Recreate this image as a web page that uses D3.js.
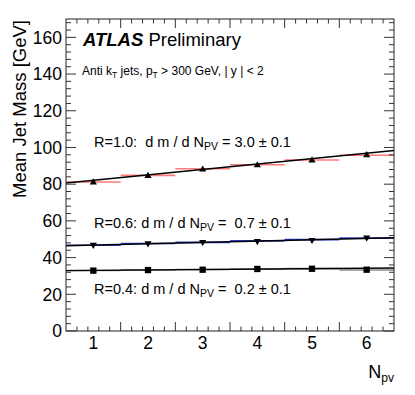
<!DOCTYPE html>
<html>
<head>
<meta charset="utf-8">
<script src="https://cdn.jsdelivr.net/npm/d3@7"></script>
<style>
  body { margin: 0; background: #fff; }
  text { font-family: "Liberation Sans", Arial, sans-serif; white-space: pre; }
</style>
</head>
<body>
<div id="chart"></div>
<script>
// data
var npv = [1, 2, 3, 4, 5, 6];
var massR10 = [81.0, 84.5, 88.0, 90.3, 93.0, 95.8];
var massR06 = [46.9, 47.8, 48.5, 49.0, 49.6, 50.9];
var massR04 = [32.9, 33.2, 33.4, 33.8, 33.9, 33.4];
var histR10 = [81.2, 84.8, 88.4, 90.6, 93.2, 95.8];
var histR06 = [46.7, 47.7, 48.3, 49.1, 49.8, 50.6];
var histR04 = [33.0, 33.3, 33.5, 33.7, 34.0, 33.2];
var fitR10 = [79.2, 2.95];  // intercept, slope
var fitR06 = [46.1, 0.72];
var fitR04 = [32.8, 0.23];
var fitLabels = [
  { r: "R=1.0:  d m / d N", val: " = 3.0 \u00b1 0.1", y: 100 },
  { r: "R=0.6: d m / d N", val: " =  0.7 \u00b1 0.1", y: 56 },
  { r: "R=0.4: d m / d N", val: " =  0.2 \u00b1 0.1", y: 20 }
];
var yTicks = [0, 20, 40, 60, 80, 100, 120, 140, 160];

var width = 415, height = 395;
var margin = { top: 19, right: 21, bottom: 64, left: 66 };
var w = width - margin.left - margin.right;
var h = height - margin.top - margin.bottom;

var svg = d3.select("#chart").append("svg")
    .attr("width", width)
    .attr("height", height);

var g = svg.append("g")
    .attr("transform", "translate(" + margin.left + "," + margin.top + ")");

var x = d3.scaleLinear().domain([0.5, 6.5]).range([0, w]);
var y = d3.scaleLinear().domain([0, 170]).range([h, 0]);

// histogram style segments (one bin wide)
function drawHist(vals, color) {
    g.selectAll(null)
        .data(vals)
        .enter().append("line")
        .attr("x1", function (d, i) { return x(npv[i] - 0.5); })
        .attr("x2", function (d, i) { return x(npv[i] + 0.5); })
        .attr("y1", function (d) { return y(d); })
        .attr("y2", function (d) { return y(d); })
        .style("stroke", color)
        .style("stroke-width", 1.6);
}
drawHist(histR10, "#ff7a7a");
drawHist(histR06, "#3344dd");
drawHist(histR04, "#8a8a8a");

// linear fits
function drawFit(fit) {
    var line = d3.line()
        .x(function (d) { return x(d); })
        .y(function (d) { return y(fit[0] + fit[1] * d); });
    g.append("path")
        .datum(x.domain())
        .attr("d", line)
        .style("fill", "none")
        .style("stroke", "#000")
        .style("stroke-width", 1.4);
}
drawFit(fitR10);
drawFit(fitR06);
drawFit(fitR04);

// markers
function drawMarkers(vals, type, size, rot) {
    var sym = d3.symbol().type(type).size(size);
    g.selectAll(null)
        .data(vals)
        .enter().append("path")
        .attr("d", sym)
        .attr("transform", function (d, i) {
            return "translate(" + x(npv[i]) + "," + y(d) + ") rotate(" + rot + ")";
        })
        .style("fill", "#000");
}
drawMarkers(massR10, d3.symbolTriangle, 22, 0);
drawMarkers(massR06, d3.symbolTriangle, 22, 180);
drawMarkers(massR04, d3.symbolSquare, 40, 0);

// frame
g.append("rect")
    .attr("width", w)
    .attr("height", h)
    .style("fill", "none")
    .style("stroke", "#222")
    .style("stroke-width", 1);

// ticks, ROOT style (inside, mirrored)
var xMajor = d3.range(1.5, 6.0, 1);
var xMinor = d3.range(0.7, 6.4, 0.2).filter(function (v) {
    return Math.abs((v - 0.5) % 1) > 0.05 && Math.abs((v - 0.5) % 1) < 0.95;
});
var yMinor = d3.range(4, 170, 4).filter(function (v) { return v % 20 !== 0; });

var ticks = g.append("g").style("stroke", "#333").style("stroke-width", 1);
function xTick(list, len) {
    list.forEach(function (v) {
        ticks.append("line").attr("x1", x(v)).attr("x2", x(v)).attr("y1", h).attr("y2", h - len);
        ticks.append("line").attr("x1", x(v)).attr("x2", x(v)).attr("y1", 0).attr("y2", len);
    });
}
function yTick(list, len) {
    list.forEach(function (v) {
        ticks.append("line").attr("x1", 0).attr("x2", len).attr("y1", y(v)).attr("y2", y(v));
        ticks.append("line").attr("x1", w).attr("x2", w - len).attr("y1", y(v)).attr("y2", y(v));
    });
}
xTick(xMajor, 9);
xTick(xMinor, 4.5);
yTick(yTicks, 10);
yTick(yMinor, 5);

// tick labels
g.selectAll(".ylab")
    .data(yTicks)
    .enter().append("text")
    .attr("x", -4)
    .attr("y", function (d) { return y(d); })
    .attr("dy", "0.36em")
    .attr("text-anchor", "end")
    .style("font-size", "17.5px")
    .text(function (d) { return d; });

g.selectAll(".xlab")
    .data(npv)
    .enter().append("text")
    .attr("x", function (d) { return x(d); })
    .attr("y", h + 18)
    .attr("text-anchor", "middle")
    .style("font-size", "17.5px")
    .text(function (d) { return d; });

// axis titles
svg.append("text")
    .attr("transform", "translate(26," + (margin.top + 1) + ") rotate(-90)")
    .attr("text-anchor", "end")
    .style("font-size", "18.5px")
    .text("Mean Jet Mass [GeV]");

var xt = svg.append("text")
    .attr("x", margin.left + w)
    .attr("y", 378)
    .attr("text-anchor", "end")
    .style("font-size", "18px");
xt.append("tspan").text("N");
xt.append("tspan").attr("dy", 4).style("font-size", "12px").text("pv");

// labels
var atlas = g.append("text")
    .attr("x", 17)
    .attr("y", 27)
    .style("font-size", "18.5px");
atlas.append("tspan").style("font-weight", "bold").style("font-style", "italic").text("ATLAS");
atlas.append("tspan").text(" Preliminary");

var sel = g.append("text")
    .attr("x", 16)
    .attr("y", 56)
    .style("font-size", "12px");
sel.append("tspan").text("Anti k");
sel.append("tspan").attr("dy", 3).style("font-size", "8.5px").text("T");
sel.append("tspan").attr("dy", -3).text(" jets, p");
sel.append("tspan").attr("dy", 3).style("font-size", "8.5px").text("T");
sel.append("tspan").attr("dy", -3).text(" > 300 GeV, | y | < 2");

fitLabels.forEach(function (f) {
    var t = g.append("text")
        .attr("x", 28)
        .attr("y", y(f.y))
        .style("font-size", "14.5px");
    t.append("tspan").text(f.r);
    t.append("tspan").attr("dy", 3).style("font-size", "10.5px").text("PV");
    t.append("tspan").attr("dy", -3).text(f.val);
});
</script>
</body>
</html>
